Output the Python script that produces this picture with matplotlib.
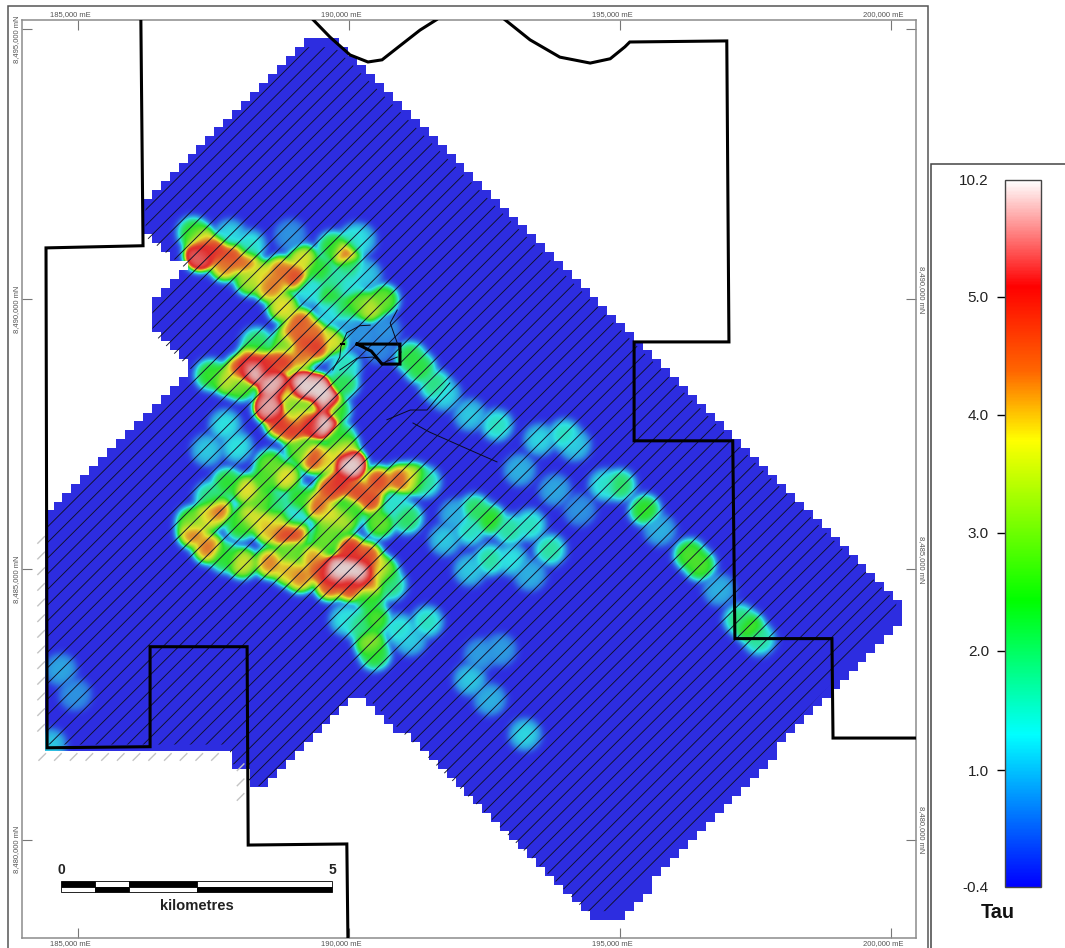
import numpy as np
import matplotlib
matplotlib.use("Agg")
import matplotlib.pyplot as plt
from matplotlib.cm import ScalarMappable
from matplotlib.collections import LineCollection
from matplotlib.colors import FuncNorm, LinearSegmentedColormap
from matplotlib.patches import Polygon, Rectangle
from matplotlib.path import Path
from matplotlib.transforms import ScaledTranslation

plt.rcParams["font.family"] = ["Liberation Sans", "DejaVu Sans"]

# --- map data: eastings and northings in km ---------------------------------
survey_e = [186.20, 186.20, 186.97, 186.33, 186.33, 187.07, 184.33, 184.38, 187.77, 187.80, 188.08, 188.12, 188.39,
            190.20, 194.45, 195.04, 200.26, 200.26, 189.74, 189.19]
survey_n = [8491.87, 8491.24, 8490.63, 8489.89, 8489.43, 8488.73, 8486.01, 8481.70, 8481.70, 8481.33, 8481.33,
            8480.92, 8480.92, 8482.72, 8478.57, 8478.57, 8484.16, 8484.38, 8494.80, 8494.80]

boundary_west_e = [186.16, 186.20, 184.41, 184.43, 186.33, 186.33, 188.12, 188.14, 189.96, 189.98]
boundary_west_n = [8495.17, 8490.99, 8490.95, 8481.70, 8481.72, 8483.57, 8483.57, 8479.90, 8479.92, 8478.18]
boundary_north_e = [189.34, 189.65, 190.02, 190.35, 190.61, 190.94, 191.31, 191.61]
boundary_north_n = [8495.17, 8494.85, 8494.52, 8494.39, 8494.43, 8494.69, 8494.98, 8495.17]
boundary_east_e = [192.88, 193.34, 193.89, 194.45, 194.82, 195.09, 195.18, 196.97, 197.01, 195.26, 195.26, 197.08,
                   197.12, 198.91, 198.93, 200.46]
boundary_east_n = [8495.17, 8494.80, 8494.48, 8494.37, 8494.45, 8494.67, 8494.76, 8494.78, 8489.21, 8489.21, 8487.38,
                   8487.38, 8483.72, 8483.72, 8481.88, 8481.88]
block_e = [190.15, 190.94, 190.94, 190.61, 190.41, 190.15]
block_n = [8489.17, 8489.17, 8488.80, 8488.80, 8489.04, 8489.17]

contours = [
    ([190.39, 190.20, 189.96, 189.85, 189.83, 189.70], [8489.52, 8489.51, 8489.38, 8489.12, 8488.93, 8488.69]),
    ([190.89, 190.76, 190.89, 190.96], [8489.80, 8489.56, 8489.19, 8489.02]),
    ([189.83, 190.15, 190.44, 190.63, 190.89], [8488.69, 8488.91, 8488.93, 8488.82, 8488.93]),
    ([191.86, 191.44, 191.13, 190.70], [8488.45, 8487.95, 8487.95, 8487.77]),
    ([191.18, 191.49, 192.23, 192.73], [8487.71, 8487.54, 8487.21, 8486.99]),
]

# Tau read at sample points across the survey
sample_e = [187.12, 187.25, 187.34, 187.25, 187.58, 187.84, 188.08, 187.71, 188.36, 188.17, 188.58, 188.73, 189.00,
            189.15, 189.93, 189.70, 190.02, 188.78, 188.54, 189.10, 189.34, 189.70, 188.97, 189.15, 189.39,
            190.15, 190.39, 190.63, 189.65, 189.93, 189.46, 189.74, 190.20, 190.30, 189.28, 190.02, 189.65,
            189.93, 190.24, 190.66, 190.54,
            188.23, 188.60, 189.15, 189.41, 189.56, 189.52, 189.28, 188.97, 188.73, 188.54, 189.19, 188.78, 189.10,
            188.49, 187.99, 188.23, 189.00, 188.87, 189.28, 189.00, 187.44, 187.75, 187.99, 188.30, 188.82, 189.89,
            189.93, 189.74, 189.83, 189.89,
            190.02, 189.59, 189.34, 189.83, 189.65, 190.15, 190.39, 190.54, 190.94, 191.18, 191.40, 189.41, 189.65,
            189.89, 190.57, 191.07, 190.85, 188.82, 188.54, 189.10, 188.12, 188.41, 188.17, 188.45, 188.69, 187.56,
            187.38, 187.12, 187.10, 187.40, 188.03, 187.71, 188.78, 188.97, 188.54, 188.97, 188.63, 188.54, 188.86,
            189.10, 189.46, 189.96, 189.74, 190.20, 190.02, 190.33, 190.52, 190.02, 189.65, 190.39, 189.34, 188.91,
            189.56, 190.63, 190.76, 190.39, 190.48, 190.39, 190.48, 190.20, 189.93, 190.94, 191.44, 191.13, 187.38,
            187.93, 187.75, 187.44, 187.71, 187.99, 189.10, 188.45, 190.02, 189.65,
            191.13, 191.31, 191.59, 191.77, 192.23, 192.73, 193.52, 193.98, 194.17, 194.72, 195.00, 195.46, 196.29,
            196.48, 197.21, 197.40, 197.58, 193.15, 193.80, 194.26, 196.84, 195.74,
            192.32, 192.60, 192.23, 192.97, 193.34, 193.71, 193.00, 192.60, 192.23, 193.34, 191.77, 191.96,
            192.23, 192.60, 193.25, 192.79, 192.42, 184.67, 184.94, 184.48, 190.11, 187.80, 188.17, 188.91]
sample_n = [8491.24, 8491.10, 8490.91, 8490.82, 8490.91, 8490.80, 8490.69, 8490.63, 8490.45, 8490.36, 8490.30,
            8490.52, 8490.43, 8490.73, 8490.86, 8490.97, 8490.58, 8489.86, 8490.23, 8489.56, 8489.38, 8489.25,
            8489.34, 8489.19, 8489.14, 8489.93, 8489.84, 8489.99, 8490.08, 8489.80, 8490.54, 8490.32, 8491.10,
            8490.45, 8490.17, 8490.26, 8489.76, 8489.52, 8489.34, 8489.43, 8489.10,
            8488.69, 8488.41, 8488.38, 8488.32, 8488.14, 8487.71, 8487.69, 8487.58, 8487.71, 8488.01, 8487.77,
            8488.88, 8488.97, 8488.78, 8488.69, 8488.91, 8488.04, 8488.23, 8487.99, 8487.86, 8488.60, 8488.51,
            8488.41, 8489.19, 8489.15, 8488.45, 8488.78, 8487.95, 8487.45, 8487.25,
            8486.93, 8487.03, 8487.06, 8486.60, 8486.47, 8486.42, 8486.29, 8486.62, 8486.66, 8486.68, 8486.62,
            8486.19, 8485.97, 8485.92, 8485.86, 8485.95, 8486.19, 8486.71, 8486.93, 8487.21, 8486.47, 8486.25,
            8485.97, 8485.88, 8485.88, 8486.10, 8485.97, 8485.68, 8485.88, 8485.40, 8485.12, 8485.23, 8485.68,
            8485.68, 8485.73, 8485.97, 8486.19, 8485.12, 8484.99, 8484.86, 8484.99, 8484.99, 8484.95, 8484.94,
            8485.36, 8485.23, 8484.99, 8484.68, 8484.71, 8484.71, 8485.21, 8485.32, 8485.55, 8484.94, 8484.71,
            8484.44, 8484.07, 8483.64, 8483.42, 8483.97, 8484.07, 8483.88, 8484.03, 8483.70, 8487.21, 8487.27,
            8486.60, 8486.34, 8487.67, 8485.82, 8486.29, 8486.66, 8486.10, 8485.77,
            8488.93, 8488.73, 8488.41, 8488.23, 8487.86, 8487.67, 8487.40, 8487.49, 8487.30, 8486.56, 8486.56,
            8486.10, 8485.27, 8485.08, 8484.07, 8483.92, 8483.70, 8486.84, 8486.47, 8486.10, 8484.62, 8485.73,
            8486.10, 8485.92, 8485.73, 8485.73, 8485.82, 8485.36, 8485.18, 8485.18, 8484.99, 8484.90, 8485.55,
            8486.01, 8482.96, 8482.59, 8481.94, 8483.51, 8483.42, 8483.14, 8482.68, 8481.75, 8491.10, 8491.19,
            8491.00, 8491.19]
sample_tau = [2.5, 4.2, 5.0, 7.5, 5.2, 5.0, 4.6, 4.5, 3.9, 3.5, 4.5, 4.6, 5.0, 3.9, 4.8, 2.5, 2.0, 4.0, 4.4, 4.8, 4.6,
              3.9, 4.7, 5.0, 5.2, 3.0, 3.7, 3.0, 2.5, 2.3, 2.5, 1.8, 1.2, 1.2, 1.4, 1.4, 1.3, 0.8, 0.7, 0.7, 0.6,
              10.2, 9.5, 10.2, 10.2, 10.2, 10.2, 6.0, 5.2, 5.2, 9.0, 4.5, 5.2, 4.5, 5.2, 5.0, 4.8, 3.0, 3.8, 3.0, 3.7,
              2.6, 3.7, 3.0, 2.2, 3.0, 2.3, 1.6, 2.6, 2.4, 3.9,
              10.2, 4.0, 5.0, 5.3, 5.0, 5.0, 5.0, 5.0, 4.8, 3.9, 1.8, 4.7, 4.0, 3.6, 3.0, 2.2, 1.5, 4.0, 3.0, 3.0, 4.0,
              3.0, 3.9, 4.0, 3.6, 4.7, 4.0, 4.6, 3.0, 4.6, 3.8, 2.5, 5.1, 5.0, 4.2, 1.3, 2.0, 4.5, 4.2, 4.5, 5.0, 10.2,
              10.2, 10.2, 5.3, 5.0, 4.6, 5.1, 4.9, 4.5, 4.3, 3.0, 3.0, 2.9, 2.0, 2.5, 2.8, 3.3, 2.5, 2.0, 1.4, 1.5, 1.6,
              1.2, 1.2, 1.4, 2.5, 2.0, 1.4, 2.6, 2.6, 2.8, 2.6, 3.0,
              2.4, 2.4, 2.0, 1.3, 1.2, 1.6, 1.3, 1.6, 1.2, 1.5, 2.2, 2.6, 2.8, 2.8, 2.0, 2.8, 1.8, 1.0, 0.9, 0.7, 1.0,
              1.0, 2.2, 2.6, 1.6, 1.8, 1.6, 1.8, 1.4, 1.8, 1.2, 1.0, 1.2, 1.0, 1.2, 1.0, 1.3, 0.8, 0.8, 0.9, 0.7, 1.2,
              1.6, 1.3, 1.5, 0.7]

# colour scale: histogram-stretched Tau ticks
tau_ticks = [-0.4, 1.0, 2.0, 3.0, 4.0, 5.0, 10.2]
tau_labels = ["-0.4", "1.0", "2.0", "3.0", "4.0", "5.0", "10.2"]
tau_fraction = [0.0, 0.165, 0.334, 0.501, 0.668, 0.835, 1.0]
colour_stops = [(0.0, "#0000ff"), (0.11, "#0080ff"), (0.215, "#00ffff"), (0.405, "#00ff00"), (0.632, "#ffff00"),
                (0.73, "#ff6600"), (0.85, "#ff0000"), (1.0, "#ffffff")]

scale_km = [0.0, 0.625, 1.25, 2.5, 5.0]

# --- figure ------------------------------------------------------------------
W, H = 1065, 948
fig = plt.figure(figsize=(W / 100, H / 100), dpi=100, facecolor="white")


def fx(p):
    return p / W


def fy(p):
    return 1 - p / H


fig.add_artist(Rectangle((fx(8), fy(960)), (928 - 8) / W, (960 - 6) / H, transform=fig.transFigure,
                         fc="none", ec="#555555", lw=1.1))
fig.add_artist(Rectangle((fx(931), fy(960)), (1080 - 931) / W, (960 - 164) / H, transform=fig.transFigure,
                         fc="none", ec="#444444", lw=1.1))

ax = fig.add_axes([fx(22), fy(938), 894 / W, 918 / H])
E_MIN, E_MAX = 183967, 200461
N_MIN, N_MAX = 8478180, 8495167
ax.set_xlim(E_MIN, E_MAX)
ax.set_ylim(N_MIN, N_MAX)
for s in ax.spines.values():
    s.set_color("#8c8c8c")
    s.set_linewidth(1.1)

cmap = LinearSegmentedColormap.from_list("tau", colour_stops, N=512)
norm = FuncNorm((lambda v: np.interp(v, tau_ticks, tau_fraction),
                 lambda f: np.interp(f, tau_fraction, tau_ticks)), vmin=-0.4, vmax=10.2)

# grid the samples: kernel-weighted mean falling back to the background level
nx, ny = 894, 918
ge = np.linspace(E_MIN, E_MAX, nx) / 1000
gn = np.linspace(N_MIN, N_MAX, ny) / 1000
GE, GN = np.meshgrid(ge, gn)
SIGMA, W0, BACKGROUND = 0.115, 0.05, -0.4
sum_w = np.full(GE.shape, W0)
sum_wt = np.full(GE.shape, W0 * BACKGROUND)
for e, n, t in zip(sample_e, sample_n, sample_tau):
    w = np.exp(-((GE - e) ** 2 + (GN - n) ** 2) / (2 * SIGMA ** 2))
    sum_w += w
    sum_wt += w * t
field = np.clip(sum_wt / sum_w, -0.4, 10.2)

# stepped outline of the gridded cells
CELL, CELL_PHASE = 0.165, 0.07
outline = Path(np.column_stack([survey_e, survey_n]))
cell_e = (np.floor((GE - CELL_PHASE) / CELL) + 0.5) * CELL + CELL_PHASE
cell_n = (np.floor((GN - 8000) / CELL) + 0.5) * CELL + 8000
inside = outline.contains_points(np.column_stack([cell_e.ravel(), cell_n.ravel()])).reshape(GE.shape)

mapper = ScalarMappable(norm=norm, cmap=cmap)
rgba = mapper.to_rgba(field)
rgba[..., :3] = rgba[..., :3] * 0.70 + 0.18
rgba[..., 3] = inside.astype(float)
ax.imshow(rgba, origin="lower", extent=(E_MIN, E_MAX, N_MIN, N_MAX), aspect="auto", interpolation="nearest", zorder=1)

# flight lines, running SW-NE, stopping just short of the stepped edge
line_offset = 8305405 - 289.7 * np.arange(-1, 76)
segments = [[(E_MIN, c + E_MIN), (E_MAX, c + E_MAX)] for c in line_offset]
lines = LineCollection(segments, colors="#10102a", linewidths=0.65, zorder=2)
ax.add_collection(lines)
corners = np.column_stack([survey_e, survey_n]) * 1000
centre = corners.mean(axis=0)
lines.set_clip_path(Polygon(centre + (corners - centre) * 0.985, transform=ax.transData))

# stubs of flight lines beyond the grid
stub_e = list(np.arange(184340, 187800, 289.7)) + [184320] * 13 + [188000] * 3
stub_n = [8481530] * 12 + list(np.arange(8482070, 8485800, 289.7))[:13] + [8481340, 8481060, 8480790]
stubs = [[(e - 70, n - 70), (e + 70, n + 70)] for e, n in zip(stub_e, stub_n)]
ax.add_collection(LineCollection(stubs, colors="#c4c4c4", linewidths=1.0, zorder=2))

# tenement boundary
for es, ns in [(boundary_west_e, boundary_west_n), (boundary_north_e, boundary_north_n),
               (boundary_east_e, boundary_east_n), (block_e, block_n)]:
    ax.plot(np.array(es) * 1000, np.array(ns) * 1000, color="black", lw=2.2, solid_joinstyle="miter", zorder=3)
for es, ns in contours:
    ax.plot(np.array(es) * 1000, np.array(ns) * 1000, color="#0a0a1e", lw=0.7, zorder=3)
ax.plot([189850, 189900], [8489170, 8489170], color="black", lw=1.5, zorder=3)

# graticule
ax.set_xticks([185000, 190000, 195000, 200000])
ax.set_xticklabels([f"{v:,} mE" for v in ax.get_xticks().astype(int)])
ax.set_yticks([8480000, 8485000, 8490000, 8495000])
ax.set_yticklabels([f"{v:,} mN" for v in ax.get_yticks().astype(int)])
ax.tick_params(axis="both", direction="in", length=7.2, width=0.8, color="#777777", labelcolor="#555555",
               labelsize=5.5, top=True, right=True, labeltop=True, labelbottom=True, labelleft=True, labelright=True)
ax.tick_params(axis="x", pad=1.5)
ax.tick_params(axis="y", pad=1.5)
shift_left = ScaledTranslation(-8 / 100, 0, fig.dpi_scale_trans)
shift_down = ScaledTranslation(0, -10 / 100, fig.dpi_scale_trans)
shift_up = ScaledTranslation(0, 10 / 100, fig.dpi_scale_trans)
for tick in ax.xaxis.get_major_ticks():
    tick.label1.set_transform(tick.label1.get_transform() + shift_left)
    tick.label2.set_transform(tick.label2.get_transform() + shift_left)
for tick in ax.yaxis.get_major_ticks():
    tick.label1.set_rotation(90)
    tick.label1.set_verticalalignment("center")
    tick.label1.set_transform(tick.label1.get_transform() + shift_down)
    tick.label2.set_rotation(270)
    tick.label2.set_verticalalignment("center")
    tick.label2.set_transform(tick.label2.get_transform() + shift_up)
ax.yaxis.get_major_ticks()[-1].label2.set_visible(False)

# scale bar
bar_e0 = 184690
bar_top, bar_mid, bar_bot = 8479240, 8479130, 8479030
for i in range(len(scale_km) - 1):
    x0 = bar_e0 + scale_km[i] * 1000
    w = (scale_km[i + 1] - scale_km[i]) * 1000
    ax.add_patch(Rectangle((x0, bar_mid), w, bar_top - bar_mid, fc="black" if i % 2 == 0 else "white",
                           ec="black", lw=0.6, zorder=4))
    ax.add_patch(Rectangle((x0, bar_bot), w, bar_mid - bar_bot, fc="white" if i % 2 == 0 else "black",
                           ec="black", lw=0.6, zorder=4))
ax.text(bar_e0, 8479440, "0", ha="center", va="center", fontsize=10, fontweight="bold", color="#222222", zorder=4)
ax.text(bar_e0 + 5000, 8479440, "5", ha="center", va="center", fontsize=10, fontweight="bold", color="#222222", zorder=4)
ax.text(bar_e0 + 2500, 8478770, "kilometres", ha="center", va="center", fontsize=10.6, fontweight="bold",
        color="#222222", zorder=4)

# colour bar
cax = fig.add_axes([fx(1005), fy(887), 36 / W, (887 - 180) / H])
cb = fig.colorbar(mapper, cax=cax, ticks=tau_ticks)
cb.ax.yaxis.set_ticks_position("left")
cb.ax.set_yticklabels(tau_labels)
cb.ax.tick_params(axis="y", which="both", length=5.8, width=1.0, pad=5.8, labelsize=11, labelcolor="#222222")
cb.ax.minorticks_off()
cb.outline.set_edgecolor("#444444")
cb.outline.set_linewidth(1.0)
ticks = cb.ax.yaxis.get_major_ticks()
ticks[0].tick1line.set_visible(False)
ticks[-1].tick1line.set_visible(False)
fig.text(fx(998), fy(912), "Tau", ha="center", va="center", fontsize=14.3, fontweight="bold", color="#111111")

fig.savefig("out.png", dpi=100)
